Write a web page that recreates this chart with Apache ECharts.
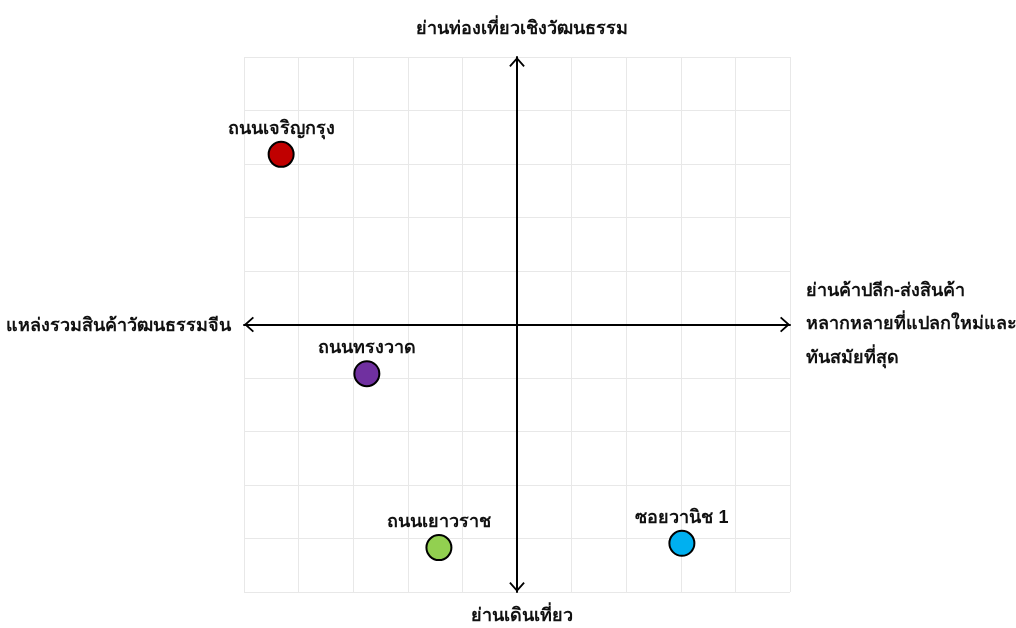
<!DOCTYPE html>
<html>
<head>
<meta charset="utf-8">
<script src="https://cdn.jsdelivr.net/npm/echarts@6/dist/echarts.min.js"></script>
<style>
  html, body { margin: 0; padding: 0; background: #fff; }
  #chart { width: 1016px; height: 628px; }
</style>
</head>
<body>
<div id="chart"></div>
<script>
// places and their position on the quadrant (-5..5 both ways)
const places = ["ถนนเจริญกรุง", "ถนนทรงวาด", "ถนนเยาวราช", "ซอยวานิช 1"];
const xValues = [-4.32, -2.75, -1.43, 3.02];
const yValues = [3.18, -0.92, -4.17, -4.09];

const axisTop = "ย่านท่องเที่ยวเชิงวัฒนธรรม";
const axisBottom = "ย่านเดินเที่ยว";
const axisLeft = "แหล่งรวมสินค้าวัฒนธรรมจีน";
const axisRight = ["ย่านค้าปลีก-ส่งสินค้า", "หลากหลายที่แปลกใหม่และ", "ทันสมัยที่สุด"];

const pointColors = ["#c00000", "#7030a0", "#92d050", "#00b0f0"];

const chartDom = document.getElementById("chart");
const myChart = echarts.init(chartDom);

const font = "sans-serif";
// open chevron arrow, pointing up
const chevron = "path://M0,9 L8,0 L16,9 L14.6,10.3 L8,2.9 L1.4,10.3 Z";

const axisLineStyle = {
  show: true,
  onZero: true,
  symbol: [chevron, chevron],
  symbolSize: [16, 10],
  symbolOffset: [5, -5],
  lineStyle: { color: "#000", width: 2 },
};

const textStyle = {
  fontFamily: font,
  fontSize: 18,
  fontWeight: 600,
  color: "#111",
};

const option = {
  animation: false,
  grid: {
    left: 244,
    right: 226,
    top: 57,
    bottom: 36,
  },
  title: [
    { text: axisTop, left: 517, top: 15, textAlign: "center", textStyle },
    { text: axisBottom, left: 517, top: 602, textAlign: "center", textStyle },
    { text: axisLeft, left: 226, top: 312, textAlign: "right", textStyle },
    {
      text: axisRight.join("\n"),
      left: 801,
      top: 269,
      textStyle: { ...textStyle, lineHeight: 33.5 },
    },
  ],
  xAxis: {
    type: "value",
    min: -5,
    max: 5,
    interval: 1,
    axisLine: axisLineStyle,
    axisTick: { show: false },
    axisLabel: { show: false },
    splitLine: { show: true, lineStyle: { color: "#e8e8e8", width: 1 } },
  },
  yAxis: {
    type: "value",
    min: -5,
    max: 5,
    interval: 1,
    axisLine: axisLineStyle,
    axisTick: { show: false },
    axisLabel: { show: false },
    splitLine: { show: true, lineStyle: { color: "#e8e8e8", width: 1 } },
  },
  series: [
    {
      type: "scatter",
      symbolSize: 25,
      z: 5,
      data: places.map((name, i) => ({
        name,
        value: [xValues[i], yValues[i]],
        itemStyle: { color: pointColors[i] },
      })),
      itemStyle: { borderColor: "#000", borderWidth: 2, opacity: 1 },
      label: {
        show: true,
        position: "top",
        distance: 3,
        formatter: "{b}",
        fontFamily: font,
        fontSize: 18,
        fontWeight: 600,
        color: "#111",
      },
    },
  ],
};

option && myChart.setOption(option);
</script>
</body>
</html>
